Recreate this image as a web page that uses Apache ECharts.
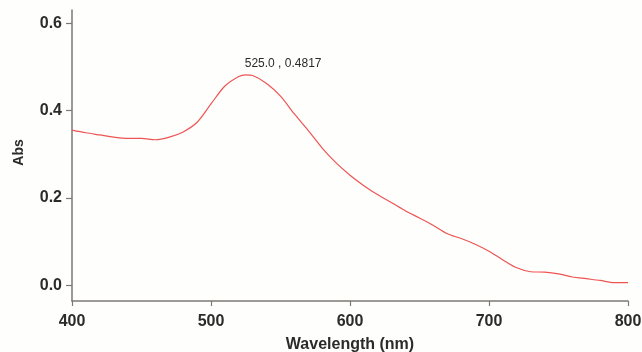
<!DOCTYPE html>
<html>
<head>
<meta charset="utf-8">
<script src="https://cdn.jsdelivr.net/npm/echarts@6/dist/echarts.min.js"></script>
<style>
  html, body { margin: 0; padding: 0; background: #fefefc; }
  #chart { width: 642px; height: 352px; }
</style>
</head>
<body>
<div id="chart"></div>
<script>
// wavelength (nm) and absorbance
var wavelength = [400, 410, 420, 430, 440, 450, 460, 470, 480, 490, 500, 510, 520, 525, 530, 540, 550,
    560, 570, 580, 590, 600, 610, 620, 630, 640, 650, 660, 670, 680, 690, 700, 710, 720, 730,
    740, 750, 760, 770, 780, 790, 800];
var absorbance = [0.355, 0.349, 0.344, 0.339, 0.336, 0.336, 0.333, 0.339, 0.351, 0.373, 0.415, 0.456, 0.478, 0.4817, 0.480, 0.462, 0.433,
    0.392, 0.354, 0.314, 0.280, 0.252, 0.228, 0.207, 0.189, 0.170, 0.154, 0.137, 0.118, 0.107, 0.094, 0.078, 0.058, 0.040, 0.031,
    0.030, 0.026, 0.019, 0.015, 0.011, 0.006, 0.006];
var xTicks = [400, 500, 600, 700, 800];
var yTicks = [0, 0.2, 0.4, 0.6];
var peak = [525, 0.4817];

var myChart = echarts.init(document.getElementById('chart'));

var axisGrey = '#7d7873';
var textDark = '#2b2b2b';

var points = [];
for (var i = 0; i < wavelength.length; i++) {
    points.push([wavelength[i], absorbance[i]]);
}

var option = {
    backgroundColor: '#fefefc',
    animation: false,
    grid: {
        left: 72,
        right: 14,
        top: 10,
        bottom: 51,
        outerBoundsMode: 'none',
        containLabel: false
    },
    xAxis: {
        type: 'value',
        min: 400,
        max: 800,
        name: 'Wavelength (nm)',
        nameLocation: 'middle',
        nameGap: 36,
        nameTextStyle: {
            color: textDark,
            fontFamily: 'Liberation Sans',
            fontWeight: 'bold',
            fontSize: 16
        },
        axisLine: { onZero: false, lineStyle: { color: axisGrey, width: 1.5 } },
        axisTick: { length: 5, customValues: xTicks, lineStyle: { color: axisGrey, width: 1.2 } },
        axisLabel: {
            customValues: xTicks,
            margin: 13,
            color: textDark,
            fontFamily: 'Liberation Sans',
            fontWeight: 'bold',
            fontSize: 16
        },
        splitLine: { show: false }
    },
    yAxis: {
        type: 'value',
        min: -0.036,
        max: 0.63,
        name: 'Abs',
        nameLocation: 'middle',
        nameGap: 46,
        nameRotate: 90,
        nameTextStyle: {
            color: textDark,
            fontFamily: 'Liberation Sans',
            fontWeight: 'bold',
            fontSize: 14,
            padding: [0, 0, 0, 6]
        },
        axisLine: { show: true, lineStyle: { color: axisGrey, width: 1.5 } },
        axisTick: { show: true, length: 6, customValues: yTicks, lineStyle: { color: axisGrey, width: 1.2 } },
        axisLabel: {
            customValues: yTicks,
            margin: 10,
            color: textDark,
            fontFamily: 'Liberation Sans',
            fontWeight: 'bold',
            fontSize: 16,
            formatter: function (v) { return v.toFixed(1); }
        },
        splitLine: { show: false }
    },
    series: [
        {
            type: 'line',
            data: points,
            smooth: 0.3,
            showSymbol: false,
            lineStyle: { color: '#ee5454', width: 1.2 },
            markPoint: {
                symbol: 'circle',
                symbolSize: 1,
                itemStyle: { color: 'rgba(0,0,0,0)' },
                data: [{ coord: peak }],
                label: {
                    show: true,
                    formatter: peak[0].toFixed(1) + ' , ' + peak[1].toFixed(4),
                    position: 'inside',
                    align: 'left',
                    verticalAlign: 'middle',
                    offset: [-1, -11],
                    color: textDark,
                    fontFamily: 'Liberation Sans',
                    fontSize: 12
                }
            }
        }
    ]
};

myChart.setOption(option);
</script>
</body>
</html>
